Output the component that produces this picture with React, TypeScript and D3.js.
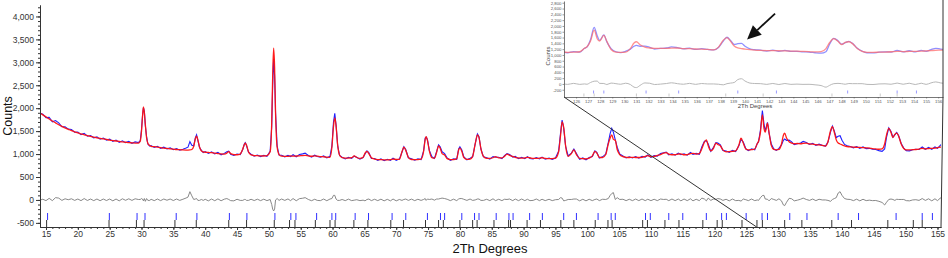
import React, { useEffect, useRef } from 'react'
import * as d3 from 'd3'

const twoTheta = [
  14.0, 14.5, 15.0, 15.5, 16.0, 16.5, 17.0, 17.5, 18.0, 18.5, 19.0, 19.5, 20.0, 20.5, 21.0, 21.5, 22.0, 22.5, 23.0, 23.5, 24.0, 24.5, 25.0, 25.5, 26.0, 26.5, 27.0, 27.5, 28.0, 28.5, 29.0, 29.5,
  29.8, 30.0, 30.15, 30.3, 30.45, 30.6, 30.8, 31.0, 31.3,
  31.5, 32, 32.5, 33, 33.5, 34, 34.5, 35, 35.5, 36, 36.5, 37,
  37.3, 37.6, 37.9, 38.2, 38.45, 38.65, 38.85, 39.1, 39.4, 39.7,
  40.0, 40.5, 41.0, 41.5, 42.0, 42.5, 43.0, 43.4, 43.7, 44.0, 44.5, 45.0, 45.5, 45.9, 46.15, 46.3, 46.5, 46.8, 47.2, 47.7, 48.2, 48.7, 49.2, 49.7,
  50.2, 50.45, 50.6, 50.75, 50.9, 51.05, 51.3, 51.6, 52.0, 52.5, 53.0, 53.4, 53.8, 54.3, 54.8, 55.3, 55.7, 56.2, 56.7, 57.2, 57.6, 58.1, 58.6, 59.1, 59.6,
  59.9, 60.15, 60.35, 60.55, 60.8, 61.1, 61.5, 62.0, 62.5, 63.0, 63.4, 63.8, 64.3, 64.8, 65.1, 65.4, 65.7, 66.1, 66.6, 67.1, 67.6, 68.1, 68.6, 69.1, 69.5, 70.0, 70.5,
  70.9, 71.2, 71.5, 71.9, 72.4, 72.9, 73.4, 73.9, 74.3, 74.55, 74.7, 74.9, 75.2, 75.6, 76.0, 76.35, 76.65, 76.9, 77.2, 77.6, 78.0, 78.5, 79.0, 79.5, 79.8, 80.0, 80.3, 80.6, 81.1, 81.6,
  82.0, 82.4, 82.75, 83.0, 83.3, 83.7, 84.2, 84.7, 85.2, 85.6, 86.1, 86.6, 87.0, 87.4, 87.8, 88.3, 88.7, 89.2, 89.7, 90.2, 90.6, 91.0, 91.5, 92.0, 92.5, 92.9, 93.4, 94.0, 94.5,
  95.0, 95.5, 95.8, 96.05, 96.3, 96.6, 97.0, 97.5, 97.9, 98.3, 98.8, 99.3, 99.8, 100.3, 100.8, 101.2, 101.5, 101.9, 102.4, 102.9, 103.3, 103.6, 103.85, 104.1, 104.4, 104.7, 105.1, 105.6,
  106.1, 106.6, 107.1, 107.6, 108.1, 108.6, 109.1, 109.5, 110.0, 110.5, 111.0, 111.5, 112.0, 112.4, 112.8, 113.3, 113.8, 114.3, 114.7, 115.2, 115.7, 116.2, 116.6, 117.1, 117.6,
  118.0, 118.4, 118.7, 119.0, 119.4, 119.8, 120.2, 120.5, 120.9, 121.3, 121.8, 122.3, 122.8, 123.3, 123.8, 124.15, 124.5, 124.9, 125.3, 125.8, 126.3,
  126.7, 126.9, 127.2, 127.5, 127.75, 127.95, 128.3, 128.55, 128.9, 129.3, 129.7, 130.1, 130.5, 130.8, 131.0, 131.3, 131.7, 132.1, 132.5, 133.0, 133.5, 133.9, 134.4, 134.9, 135.4, 135.9, 136.4, 136.9, 137.4,
  137.8, 138.2, 138.5, 138.8, 139.1, 139.4, 139.7, 140.0, 140.4, 140.8, 141.3, 141.8, 142.3, 142.8, 143.3, 143.8, 144.3, 144.8, 145.3, 145.8, 146.3,
  146.7, 147.0, 147.35, 147.7, 148.0, 148.3, 148.6, 148.9, 149.3, 149.7, 150.1, 150.6, 151.1, 151.6, 152.1, 152.6, 153.1, 153.6, 154.1, 154.6, 155.0, 155.4, 155.8, 156.2, 156.5,
]

// calculated profile (red)
const yCalc = [
  1900, 1855, 1810, 1765, 1720, 1680, 1640, 1605, 1570, 1540, 1510, 1485, 1460, 1440, 1420, 1402, 1385, 1370, 1355, 1342, 1330, 1318, 1305, 1295, 1285, 1275, 1265, 1258, 1250, 1245, 1240, 1240,
  1280, 1500, 1800, 2030, 1900, 1650, 1350, 1230, 1185,
  1170, 1160, 1150, 1140, 1130, 1122, 1115, 1108, 1100, 1095, 1090, 1088,
  1088, 1090, 1100, 1170, 1330, 1390, 1310, 1160, 1070, 1045,
  1040, 1035, 1030, 1022, 1012, 1003, 998, 1020, 1055, 1010, 990, 985, 1000, 1110, 1210, 1240, 1190, 1050, 980, 968, 964, 960, 958, 965,
  1050, 1700, 2700, 3310, 2900, 1900, 1150, 990, 955, 950, 948, 960, 955, 958, 962, 968, 970, 960, 952, 960, 955, 945, 940, 932, 930,
  1150, 1600, 1790, 1620, 1200, 980, 920, 910, 912, 920, 960, 925, 905, 930, 1020, 1060, 1010, 920, 890, 880, 878, 875, 872, 880, 890, 885, 885,
  1050, 1150, 1080, 930, 882, 880, 880, 890, 1060, 1320, 1380, 1300, 1070, 920, 910, 1040, 1180, 1130, 1010, 980, 900, 880, 878, 900, 1090, 1130, 1060, 930, 885, 890,
  950, 1220, 1420, 1360, 1120, 950, 905, 905, 920, 945, 915, 915, 950, 1000, 970, 950, 930, 915, 910, 915, 930, 920, 905, 905, 910, 920, 905, 900, 900,
  910, 1050, 1400, 1700, 1580, 1180, 950, 1010, 1090, 990, 905, 900, 895, 910, 960, 1060, 1020, 930, 925, 990, 1220, 1350, 1420, 1320, 1300, 1100, 990, 945,
  930, 925, 930, 925, 925, 930, 950, 965, 945, 950, 970, 990, 1020, 1030, 1000, 985, 990, 1000, 1005, 985, 990, 1010, 1015, 1000, 1010,
  1120, 1260, 1310, 1180, 1070, 1120, 1240, 1210, 1180, 1090, 1050, 1055, 1060, 1070, 1190, 1345, 1240, 1110, 1090, 1095, 1110,
  1230, 1280, 1480, 1855, 1560, 1480, 1675, 1470, 1190, 1100, 1090, 1100, 1220, 1410, 1455, 1350, 1270, 1240, 1225, 1230, 1225, 1235, 1240, 1220, 1215, 1205, 1200, 1190, 1175,
  1270, 1510, 1600, 1470, 1310, 1240, 1220, 1200, 1180, 1165, 1155, 1150, 1148, 1145, 1140, 1135, 1130, 1120, 1112, 1105, 1115,
  1220, 1420, 1560, 1470, 1360, 1430, 1455, 1390, 1220, 1120, 1090, 1090, 1095, 1100, 1110, 1125, 1115, 1120, 1125, 1130, 1140, 1150, 1160, 1165, 1170,
]

// observed counts (blue)
const yObs = [
  1895, 1870, 1795, 1800, 1705, 1730, 1680, 1595, 1595, 1545, 1535, 1475, 1480, 1425, 1450, 1390, 1405, 1355, 1375, 1325, 1350, 1305, 1325, 1275, 1305, 1255, 1290, 1250, 1275, 1235, 1265, 1250,
  1290, 1530, 1820, 2010, 1930, 1620, 1380, 1220, 1175,
  1185, 1145, 1170, 1125, 1150, 1115, 1135, 1095, 1120, 1085, 1105, 1130,
  1150, 1270, 1190, 1180, 1350, 1420, 1300, 1150, 1080, 1035,
  1055, 1015, 1050, 1005, 1035, 985, 1015, 1050, 1065, 995, 970, 1000, 990, 1100, 1220, 1250, 1180, 1040, 995, 955, 980, 945, 975, 950,
  1060, 1600, 2500, 3070, 2700, 1900, 1180, 980, 975, 940, 970, 945, 985, 940, 990, 1005, 1020, 970, 935, 975, 945, 930, 960, 915, 950,
  1180, 1700, 1890, 1640, 1190, 970, 930, 895, 930, 905, 955, 930, 890, 925, 1000, 1070, 1030, 905, 905, 865, 895, 855, 885, 860, 910, 865, 895,
  1040, 1160, 1100, 920, 900, 865, 895, 880, 1070, 1350, 1370, 1320, 1080, 940, 905, 1060, 1200, 1160, 1050, 1010, 915, 865, 895, 885, 1110, 1160, 1090, 945, 875, 910,
  940, 1220, 1440, 1380, 1110, 940, 920, 890, 945, 930, 930, 900, 965, 1010, 990, 935, 950, 900, 930, 900, 945, 905, 895, 925, 895, 935, 890, 915, 885,
  915, 1060, 1450, 1740, 1560, 1170, 960, 1020, 1110, 1010, 885, 915, 875, 925, 945, 1070, 1040, 915, 940, 1000, 1250, 1450, 1560, 1480, 1310, 1150, 1000, 960,
  915, 940, 915, 945, 910, 950, 935, 980, 930, 965, 955, 1010, 1030, 1045, 985, 1005, 975, 1020, 985, 1005, 975, 1035, 995, 1015, 995,
  1160, 1280, 1290, 1220, 1060, 1140, 1250, 1240, 1200, 1080, 1065, 1035, 1080, 1055, 1180, 1320, 1260, 1115, 1075, 1115, 1095,
  1230, 1270, 1530, 1950, 1660, 1500, 1690, 1450, 1220, 1110, 1080, 1125, 1200, 1300, 1330, 1300, 1305, 1265, 1205, 1225, 1240, 1275, 1250, 1210, 1235, 1190, 1215, 1190, 1175,
  1260, 1480, 1610, 1500, 1360, 1390, 1400, 1300, 1210, 1180, 1165, 1135, 1165, 1125, 1155, 1120, 1125, 1105, 1100, 1075, 1060,
  1110, 1370, 1570, 1490, 1370, 1420, 1470, 1400, 1230, 1130, 1075, 1070, 1095, 1105, 1100, 1155, 1105, 1145, 1105, 1155, 1125, 1185, 1230, 1200, 1190,
]

// reflection markers of the two phases
const reflectionsBlue = [
  15.25, 24.95, 29.3, 30.55, 35.45, 38.7, 43.8, 46.55, 50.95, 53.45, 54.25, 57.5, 59.9, 60.5, 63.55, 65.65, 69.35, 71.5, 74.9, 76.95,
  77.6, 80.3, 82.3, 83.0, 85.7, 87.7, 88.35, 90.95, 92.95, 96.3, 98.3, 101.7, 103.75, 104.4, 109.15, 109.9, 112.8, 115.0, 118.7, 121.1,
  121.85, 124.95, 127.45, 128.3, 131.8, 134.5, 139.4, 142.6, 148.5, 152.6, 154.2,
]
const reflectionsBlack = [
  15.1, 24.9, 29.2, 30.4, 35.25, 38.6, 43.7, 46.5, 50.85, 53.25, 54.1, 57.3, 59.6, 60.4, 63.35, 65.55, 69.15, 71.15, 74.6, 76.65,
  77.4, 80.0, 82.0, 82.7, 85.35, 87.65, 87.95, 90.55, 92.65, 95.85, 97.9, 101.25, 103.25, 103.9, 108.7, 109.45, 112.2, 114.4, 118.15, 120.4,
  121.2, 124.3, 126.65, 127.5, 131.0, 133.7, 138.4, 141.5, 147.2, 151.2, 152.6,
]

const mainYTicks = [-500, 0, 500, 1000, 1500, 2000, 2500, 3000, 3500, 4000]
const mainXTicks = [15, 20, 25, 30, 35, 40, 45, 50, 55, 60, 65, 70, 75, 80, 85, 90, 95, 100, 105, 110, 115, 120, 125, 130, 135, 140, 145, 150, 155]
const insetYTicks = [-200, 0, 200, 400, 600, 800, 1000, 1200, 1400, 1600, 1800, 2000, 2200, 2400, 2600, 2800]
const insetXTicks = [126, 127, 128, 129, 130, 131, 132, 133, 134, 135, 136, 137, 138, 139, 140, 141, 142, 143, 144, 145, 146, 147, 148, 149, 150, 151, 152, 153, 154, 155, 156]

const zoomStart = 126.6 // where the inset's left connector meets the main axis
const arrowAt = [140, 1530] // point the arrow is aimed at

const FONT = '"Liberation Sans", Arial, sans-serif'
const fmt = (d: number) => d.toLocaleString('en-US')

export default function App () {
  const ref = useRef<SVGSVGElement>(null)

  useEffect(() => {
    const svg = d3.select(ref.current)
    svg.selectAll('*').remove()

    const n = Math.min(twoTheta.length, yCalc.length, yObs.length)
    const rows = d3.range(n).map(i => ({ t: twoTheta[i], calc: yCalc[i], obs: yObs[i], diff: yObs[i] - yCalc[i] }))

    // ---------- main plot ----------
    const x = d3.scaleLinear().domain([14.06, 155.55]).range([40, 941])
    const y = d3.scaleLinear().domain([-590, 4250]).range([227, 5])

    svg.append('clipPath').attr('id', 'mainClip')
      .append('rect').attr('x', 40).attr('y', 0).attr('width', 901).attr('height', 227)

    const plot = svg.append('g').attr('clip-path', 'url(#mainClip)')

    const lineOf = (key: 'calc' | 'obs' | 'diff', sx: any, sy: any, curve: any) => d3.line<any>()
      .x(d => sx(d.t)).y(d => sy(d[key])).curve(curve)

    plot.append('path').datum(rows)
      .attr('d', lineOf('diff', x, y, d3.curveLinear))
      .attr('fill', 'none').attr('stroke', '#7a7a7a').attr('stroke-width', 0.9)
    plot.append('path').datum(rows)
      .attr('d', lineOf('obs', x, y, d3.curveLinear))
      .attr('fill', 'none').attr('stroke', '#1f1fff').attr('stroke-width', 1.1)
    plot.append('path').datum(rows)
      .attr('d', lineOf('calc', x, y, d3.curveMonotoneX))
      .attr('fill', 'none').attr('stroke', '#ff1010').attr('stroke-width', 1.3).attr('opacity', 0.95)

    plot.selectAll('.tb').data(reflectionsBlue).enter().append('line')
      .attr('x1', d => x(d)).attr('x2', d => x(d)).attr('y1', 213).attr('y2', 220)
      .attr('stroke', '#3030ff').attr('stroke-width', 1)
    plot.selectAll('.tk').data(reflectionsBlack).enter().append('line')
      .attr('x1', d => x(d)).attr('x2', d => x(d)).attr('y1', 220).attr('y2', 227)
      .attr('stroke', '#333').attr('stroke-width', 1)

    const styleAxis = (g: any, size: number) => {
      g.attr('font-family', FONT)
      g.select('.domain').attr('stroke', '#333')
      g.selectAll('line').attr('stroke', '#333')
      g.selectAll('text').attr('font-size', size).attr('fill', '#333')
    }

    svg.append('g').attr('transform', 'translate(40,0)')
      .call(d3.axisLeft(y).tickValues(d3.range(-500, 4201, 100)).tickSize(2).tickFormat(() => '').tickSizeOuter(0))
      .call((g: any) => styleAxis(g, 8.5))
    svg.append('g').attr('transform', 'translate(40,0)')
      .call(d3.axisLeft(y).tickValues(mainYTicks).tickSize(4).tickPadding(2).tickFormat((d: any) => fmt(d)).tickSizeOuter(0))
      .call((g: any) => styleAxis(g, 8.5))

    svg.append('g').attr('transform', 'translate(0,227)')
      .call(d3.axisBottom(x).tickValues(d3.range(15, 156, 1)).tickSize(2).tickFormat(() => '').tickSizeOuter(0))
      .call((g: any) => styleAxis(g, 8.5))
    svg.append('g').attr('transform', 'translate(0,227)')
      .call(d3.axisBottom(x).tickValues(mainXTicks).tickSize(3).tickPadding(1).tickFormat((d: any) => String(d)).tickSizeOuter(0))
      .call((g: any) => styleAxis(g, 8.5))

    svg.append('text').attr('transform', 'translate(12,116) rotate(-90)')
      .attr('text-anchor', 'middle').attr('font-family', FONT).attr('font-size', 12.5).attr('fill', '#111')
      .text('Counts')
    svg.append('text').attr('x', 490).attr('y', 253)
      .attr('text-anchor', 'middle').attr('font-family', FONT).attr('font-size', 13).attr('fill', '#111')
      .text('2Th Degrees')

    // ---------- inset ----------
    const ix = d3.scaleLinear().domain([125.0, 156.4]).range([564, 943])
    const iy = d3.scaleLinear().domain([-450, 2860]).range([97, 1])

    svg.append('rect').attr('x', 537).attr('y', 0).attr('width', 411).attr('height', 110).attr('fill', '#fff')

    svg.append('clipPath').attr('id', 'insetClip')
      .append('rect').attr('x', 564).attr('y', 0).attr('width', 379).attr('height', 97)
    const inset = svg.append('g').attr('clip-path', 'url(#insetClip)')

    inset.append('path').datum(rows)
      .attr('d', lineOf('diff', ix, iy, d3.curveMonotoneX))
      .attr('fill', 'none').attr('stroke', '#b8b8b8').attr('stroke-width', 1)
    inset.append('path').datum(rows)
      .attr('d', lineOf('obs', ix, iy, d3.curveMonotoneX))
      .attr('fill', 'none').attr('stroke', '#7d7dff').attr('stroke-width', 1.3).attr('opacity', 0.85)
    inset.append('path').datum(rows)
      .attr('d', lineOf('calc', ix, iy, d3.curveMonotoneX))
      .attr('fill', 'none').attr('stroke', '#ff6b6b').attr('stroke-width', 1.3).attr('opacity', 0.75)

    inset.selectAll('.ib').data(reflectionsBlue).enter().append('line')
      .attr('x1', d => ix(d)).attr('x2', d => ix(d)).attr('y1', 90.5).attr('y2', 93.5)
      .attr('stroke', '#8080ff').attr('stroke-width', 0.8)
    inset.selectAll('.ik').data(reflectionsBlack).enter().append('line')
      .attr('x1', d => ix(d)).attr('x2', d => ix(d)).attr('y1', 93.5).attr('y2', 96.5)
      .attr('stroke', '#aaa').attr('stroke-width', 0.6)

    const styleInset = (g: any) => {
      g.attr('font-family', FONT)
      g.select('.domain').attr('stroke', '#555').attr('stroke-width', 0.8)
      g.selectAll('line').attr('stroke', '#555').attr('stroke-width', 0.6)
      g.selectAll('text').attr('font-size', 4.3).attr('fill', '#555')
    }
    svg.append('g').attr('transform', 'translate(564,0)')
      .call(d3.axisLeft(iy).tickValues(insetYTicks).tickSize(1.5).tickPadding(1).tickFormat((d: any) => fmt(d)).tickSizeOuter(0))
      .call(styleInset)
    svg.append('g').attr('transform', 'translate(0,97)')
      .call(d3.axisBottom(ix).tickValues(insetXTicks).tickSize(1.5).tickPadding(1).tickFormat((d: any) => String(d)).tickSizeOuter(0))
      .call(styleInset)

    svg.append('text').attr('transform', 'translate(550,56) rotate(-90)')
      .attr('text-anchor', 'middle').attr('font-family', FONT).attr('font-size', 6).attr('fill', '#444')
      .text('Counts')
    svg.append('text').attr('x', 755).attr('y', 108)
      .attr('text-anchor', 'middle').attr('font-family', FONT).attr('font-size', 6).attr('fill', '#444')
      .text('2Th Degrees')

    // connectors from the inset down to the zoomed range of the main axis
    svg.append('line').attr('x1', ix(125.0)).attr('y1', 97).attr('x2', x(zoomStart)).attr('y2', 227)
      .attr('stroke', '#333').attr('stroke-width', 1)
    svg.append('line').attr('x1', 943).attr('y1', 0).attr('x2', 943).attr('y2', 97)
      .attr('stroke', '#333').attr('stroke-width', 1)
    svg.append('line').attr('x1', 943).attr('y1', 97).attr('x2', x(155.55)).attr('y2', 227)
      .attr('stroke', '#333').attr('stroke-width', 1)

    // arrow pointing at the unfitted shoulder
    const tip = [ix(arrowAt[0]) + 2, iy(arrowAt[1])]
    const tail = [tip[0] + 28, tip[1] - 26]
    const len = Math.hypot(tip[0] - tail[0], tip[1] - tail[1])
    const ux = (tip[0] - tail[0]) / len, uy = (tip[1] - tail[1]) / len
    const base = [tip[0] - ux * 14, tip[1] - uy * 14]
    svg.append('line').attr('x1', tail[0]).attr('y1', tail[1]).attr('x2', base[0]).attr('y2', base[1])
      .attr('stroke', '#111').attr('stroke-width', 1.8)
    svg.append('path')
      .attr('d', `M${tip[0]},${tip[1]}L${base[0] - uy * 6.5},${base[1] + ux * 6.5}L${base[0] + uy * 6.5},${base[1] - ux * 6.5}Z`)
      .attr('fill', '#111')
  }, [])

  return (
    <svg ref={ref} width={948} height={258}
      style={{ position: 'absolute', left: 0, top: 0, background: '#fff', fontFamily: FONT }} />
  )
}
